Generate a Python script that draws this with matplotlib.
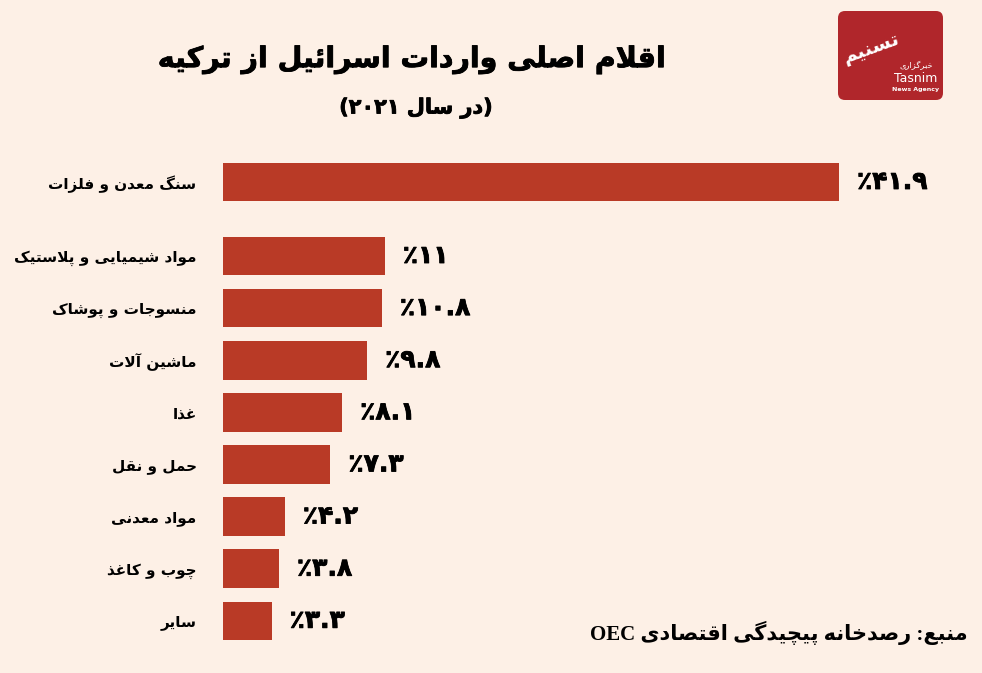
import numpy as np
import matplotlib
matplotlib.use('Agg')
import matplotlib.pyplot as plt
import matplotlib.patheffects as pe
from matplotlib.patches import FancyBboxPatch

# --- data ---
title = "اقلام اصلی واردات اسرائیل از ترکیه"
subtitle = "(در سال ۲۰۲۱)"
categories = ["سنگ معدن و فلزات", "مواد شیمیایی و پلاستیک", "منسوجات و پوشاک",
              "ماشین آلات", "غذا", "حمل و نقل", "مواد معدنی", "چوب و کاغذ", "سایر"]
values = [41.9, 11, 10.8, 9.8, 8.1, 7.3, 4.2, 3.8, 3.3]
source = "منبع: رصدخانه پیچیدگی اقتصادی OEC"


# --- tiny arabic/persian shaper (matplotlib has no text shaping) ---
def _f(*codes):
    return tuple(chr(c) if c else None for c in codes)

FORMS = {
    'ء': _f(0xFE80, 0, 0, 0),
    'آ': _f(0xFE81, 0xFE82, 0, 0),
    'ا': _f(0xFE8D, 0xFE8E, 0, 0),
    'ئ': _f(0xFE89, 0xFE8A, 0xFE8B, 0xFE8C),
    'ب': _f(0xFE8F, 0xFE90, 0xFE91, 0xFE92),
    'پ': _f(0xFB56, 0xFB57, 0xFB58, 0xFB59),
    'ت': _f(0xFE95, 0xFE96, 0xFE97, 0xFE98),
    'ث': _f(0xFE99, 0xFE9A, 0xFE9B, 0xFE9C),
    'ج': _f(0xFE9D, 0xFE9E, 0xFE9F, 0xFEA0),
    'چ': _f(0xFB7A, 0xFB7B, 0xFB7C, 0xFB7D),
    'ح': _f(0xFEA1, 0xFEA2, 0xFEA3, 0xFEA4),
    'خ': _f(0xFEA5, 0xFEA6, 0xFEA7, 0xFEA8),
    'د': _f(0xFEA9, 0xFEAA, 0, 0),
    'ذ': _f(0xFEAB, 0xFEAC, 0, 0),
    'ر': _f(0xFEAD, 0xFEAE, 0, 0),
    'ز': _f(0xFEAF, 0xFEB0, 0, 0),
    'ژ': _f(0xFB8A, 0xFB8B, 0, 0),
    'س': _f(0xFEB1, 0xFEB2, 0xFEB3, 0xFEB4),
    'ش': _f(0xFEB5, 0xFEB6, 0xFEB7, 0xFEB8),
    'ص': _f(0xFEB9, 0xFEBA, 0xFEBB, 0xFEBC),
    'ض': _f(0xFEBD, 0xFEBE, 0xFEBF, 0xFEC0),
    'ط': _f(0xFEC1, 0xFEC2, 0xFEC3, 0xFEC4),
    'ظ': _f(0xFEC5, 0xFEC6, 0xFEC7, 0xFEC8),
    'ع': _f(0xFEC9, 0xFECA, 0xFECB, 0xFECC),
    'غ': _f(0xFECD, 0xFECE, 0xFECF, 0xFED0),
    'ف': _f(0xFED1, 0xFED2, 0xFED3, 0xFED4),
    'ق': _f(0xFED5, 0xFED6, 0xFED7, 0xFED8),
    'ک': _f(0xFB8E, 0xFB8F, 0xFB90, 0xFB91),
    'گ': _f(0xFB92, 0xFB93, 0xFB94, 0xFB95),
    'ل': _f(0xFEDD, 0xFEDE, 0xFEDF, 0xFEE0),
    'م': _f(0xFEE1, 0xFEE2, 0xFEE3, 0xFEE4),
    'ن': _f(0xFEE5, 0xFEE6, 0xFEE7, 0xFEE8),
    'ه': _f(0xFEE9, 0xFEEA, 0xFEEB, 0xFEEC),
    'و': _f(0xFEED, 0xFEEE, 0, 0),
    'ی': _f(0xFEEF, 0xFEF0, 0xFEF3, 0xFEF4),
}
LAM_ALEF = {'ا': (0xFEFB, 0xFEFC), 'آ': (0xFEF5, 0xFEF6)}
MIRROR = {'(': ')', ')': '('}
FA_DIGITS = str.maketrans('0123456789', '۰۱۲۳۴۵۶۷۸۹')


def join_shape(s):
    out = []
    i = 0
    while i < len(s):
        c = s[i]
        if c not in FORMS:
            out.append(c)
            i += 1
            continue
        prev = s[i - 1] if i > 0 else ''
        prev_j = prev in FORMS and FORMS[prev][2] is not None
        if c == 'ل' and i + 1 < len(s) and s[i + 1] in LAM_ALEF:
            iso, fin = LAM_ALEF[s[i + 1]]
            out.append(chr(fin if prev_j else iso))
            i += 2
            continue
        nxt = s[i + 1] if i + 1 < len(s) else ''
        next_j = FORMS[c][2] is not None and nxt in FORMS
        iso, fin, ini, med = FORMS[c]
        if prev_j and next_j:
            out.append(med)
        elif prev_j:
            out.append(fin)
        elif next_j:
            out.append(ini)
        else:
            out.append(iso)
        i += 1
    return ''.join(out)


def is_ltr(c):
    return (c.isascii() and c.isalnum()) or c in '۰۱۲۳۴۵۶۷۸۹'


def rtl(s):
    runs = []
    for c in join_shape(s):
        k = is_ltr(c)
        if runs and runs[-1][0] == k:
            runs[-1][1].append(c)
        else:
            runs.append([k, [c]])
    parts = []
    for k, chars in reversed(runs):
        if k:
            parts.append(''.join(chars))
        else:
            parts.append(''.join(MIRROR.get(c, c) for c in reversed(chars)))
    return ''.join(parts)


def pct(v):
    return '٪' + ('%g' % v).translate(FA_DIGITS)


BG = '#FDF0E6'
BAR = '#B93A26'
heavy = [pe.withStroke(linewidth=0.6, foreground='black')]

fig = plt.figure(figsize=(9.82, 6.73), dpi=100, facecolor=BG)

# bars: first category set apart from the rest
pos = np.array([0] + [1.42 + i for i in range(len(values) - 1)])
ax = fig.add_axes([223 / 982, 23 / 673, 735 / 982, 500 / 673])
ax.set_facecolor('none')
ax.barh(pos, values, height=0.74, color=BAR)
ax.set_xlim(0, 50)
ax.set_ylim(8.98, -0.614)
for s in ax.spines.values():
    s.set_visible(False)
ax.set_xticks([])
ax.set_yticks(pos, labels=[rtl(c) for c in categories])
ax.tick_params(axis='y', length=0, pad=19)
for lab in ax.get_yticklabels():
    lab.set_fontsize(11)
    lab.set_fontweight('bold')

for v, y in zip(values, pos):
    ax.annotate(pct(v), (v, y), xytext=(13, 0), textcoords='offset points',
                ha='left', va='center', fontsize=18, fontweight='bold',
                path_effects=heavy)

fig.text(412 / 982, 1 - 60 / 673, rtl(title), ha='center', va='center',
         fontsize=20.5, fontweight='bold', path_effects=heavy)
fig.text(416 / 982, 1 - 108 / 673, rtl(subtitle), ha='center', va='center',
         fontsize=15, fontweight='bold', path_effects=heavy)
fig.text(968 / 982, 1 - 633 / 673, rtl(source), ha='right', va='center',
         fontsize=15, fontweight='bold', family=['Liberation Serif', 'DejaVu Sans'])

# logo
lx = fig.add_axes([838 / 982, 1 - 100 / 673, 105 / 982, 89 / 673])
lx.set_xlim(0, 105)
lx.set_ylim(0, 89)
lx.axis('off')
lx.add_patch(FancyBboxPatch((0, 0), 105, 89, boxstyle='round,pad=0,rounding_size=7',
                            fc='#B0262B', ec='none'))
lx.text(33, 52, rtl('تسنیم'), color='white', fontsize=14, fontweight='bold',
        ha='center', va='center', rotation=20)
lx.text(78, 34, rtl('خبرگزاری'), color='white', fontsize=6, ha='center', va='center')
lx.text(78, 21, 'Tasnim', color='white', fontsize=9, ha='center', va='center')
lx.text(78, 10, 'News Agency', color='white', fontsize=4.5, fontweight='bold',
        ha='center', va='center')

fig.savefig('out.png', dpi=100, facecolor=BG)
